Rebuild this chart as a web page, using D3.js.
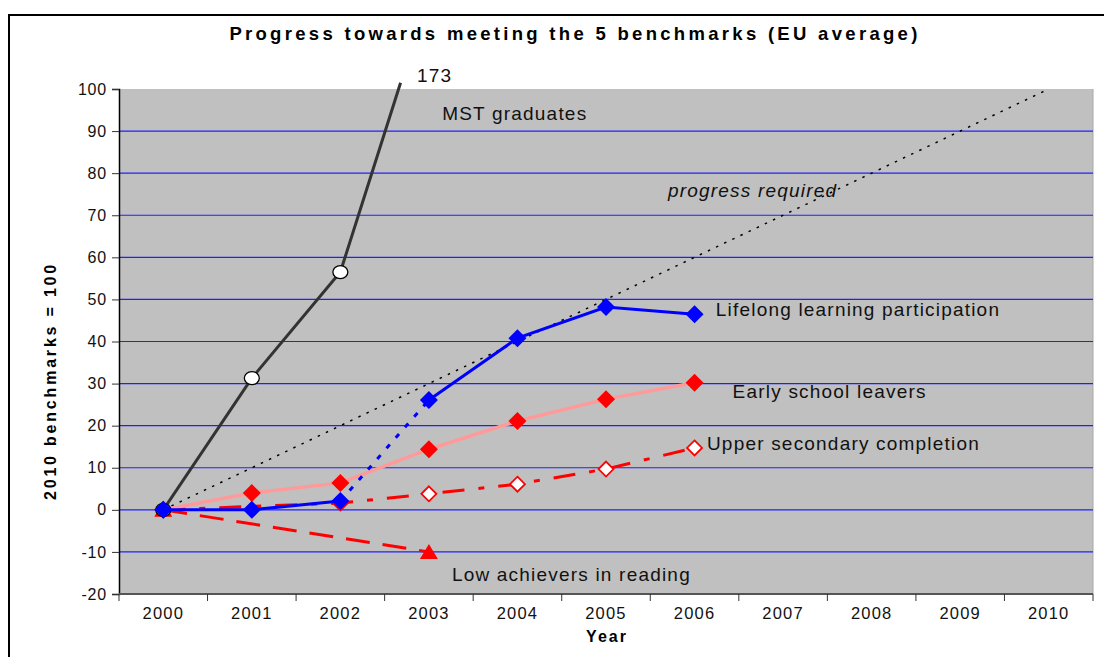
<!DOCTYPE html>
<html>
<head>
<meta charset="utf-8">
<script src="https://cdn.jsdelivr.net/npm/d3@7"></script>
<style>
  body { margin: 0; background: #fff; }
  svg { font-family: Arial, "Liberation Sans", sans-serif; }
</style>
</head>
<body>
<script>

    // data (2010 benchmarks = 100)
    var years = [2000, 2001, 2002, 2003, 2004, 2005, 2006, 2007, 2008, 2009, 2010];
    var yTicks = [-20, -10, 0, 10, 20, 30, 40, 50, 60, 70, 80, 90, 100];

    var mstYears = [2000, 2001, 2002];
    var mstValues = [0, 31.3, 56.5];
    var mst2003 = 173;              // off the scale, line runs out of the top
    var mstExit = [2002.68, 101.5]; // where the drawn line leaves the picture

    var progressYears = [2000, 2010];
    var progressValues = [0, 100];

    var lllYears = [2000, 2001, 2002, 2003, 2004, 2005, 2006];
    var lllValues = [0, 0, 2.1, 26.1, 40.8, 48.2, 46.5];

    var eslYears = [2000, 2001, 2002, 2003, 2004, 2005, 2006];
    var eslValues = [0, 4, 6.4, 14.4, 21.1, 26.3, 30.2];

    var uscYears = [2000, 2002, 2003, 2004, 2005, 2006];
    var uscValues = [0, 1.6, 3.8, 6.1, 9.7, 14.7];

    var lowYears = [2000, 2003];
    var lowValues = [0, -10];

    var W = 1104, H = 657;
    var pL = 119, pR = 1093, pT = 89, pB = 594;

    var svg = d3.select("body").append("svg")
        .attr("width", W)
        .attr("height", H);

    // outer frame
    svg.append("path")
        .attr("d", "M9,660 L9,15 L1110,15")
        .attr("fill", "none")
        .attr("stroke", "#000")
        .attr("stroke-width", 2);

    var x = d3.scaleLinear().domain([1999.5, 2010.5]).range([pL, pR]);
    var y = d3.scaleLinear().domain([-20, 100]).range([pB, pT]);

    svg.append("rect")
        .attr("x", pL).attr("y", pT)
        .attr("width", pR - pL).attr("height", pB - pT)
        .attr("fill", "#c0c0c0")
        .attr("stroke", "none");
    svg.append("line")
        .attr("x1", pR).attr("x2", pR).attr("y1", pT).attr("y2", pB)
        .attr("stroke", "#a8a8a8");

    // gridlines
    svg.selectAll(".grid")
        .data(yTicks.filter(function(d) { return d > -20 && d < 100; }))
        .enter().append("line")
        .attr("class", "grid")
        .attr("x1", pL).attr("x2", pR)
        .attr("y1", function(d) { return y(d); })
        .attr("y2", function(d) { return y(d); })
        .attr("stroke", "#2020ff")
        .attr("stroke-width", 1.2);

    // axes
    var yAxis = svg.append("g")
        .attr("transform", "translate(" + pL + ",0)")
        .call(d3.axisLeft(y).tickValues(yTicks).tickSize(7).tickPadding(5)
            .tickFormat(function(d) { return String(d); }));
    yAxis.select(".domain").attr("stroke", "#000").attr("stroke-width", 1.5);
    yAxis.selectAll(".tick line").attr("stroke", "#333");
    yAxis.selectAll("text")
        .attr("font-size", 16)
        .attr("letter-spacing", 0.8)
        .attr("fill", "#111");

    var edges = d3.range(1999.5, 2011, 1);
    var xAxis = svg.append("g")
        .attr("transform", "translate(0," + pB + ")");
    xAxis.append("line")
        .attr("x1", pL).attr("x2", pR)
        .attr("stroke", "#555").attr("stroke-width", 2);
    xAxis.selectAll(".tk")
        .data(edges)
        .enter().append("line")
        .attr("class", "tk")
        .attr("x1", function(d) { return x(d); })
        .attr("x2", function(d) { return x(d); })
        .attr("y1", 0).attr("y2", 7)
        .attr("stroke", "#333");
    xAxis.selectAll(".lb")
        .data(years)
        .enter().append("text")
        .attr("class", "lb")
        .attr("x", function(d) { return x(d); })
        .attr("y", 25)
        .attr("text-anchor", "middle")
        .attr("font-size", 16.5)
        .attr("letter-spacing", 1.2)
        .attr("fill", "#111")
        .text(function(d) { return d; });

    // title and axis titles
    svg.append("text")
        .attr("x", 575).attr("y", 40)
        .attr("text-anchor", "middle")
        .attr("font-size", 18.5)
        .attr("font-weight", "bold")
        .attr("letter-spacing", 3.3)
        .text("Progress towards meeting the 5 benchmarks (EU average)");

    svg.append("text")
        .attr("x", 607).attr("y", 642)
        .attr("text-anchor", "middle")
        .attr("font-size", 16)
        .attr("font-weight", "bold")
        .attr("letter-spacing", 2)
        .text("Year");

    svg.append("text")
        .attr("transform", "translate(56,381) rotate(-90)")
        .attr("text-anchor", "middle")
        .attr("font-size", 16)
        .attr("font-weight", "bold")
        .attr("letter-spacing", 2.8)
        .text("2010 benchmarks = 100");

    function pts(xs, vs) {
        return xs.map(function(d, i) { return [d, vs[i]]; });
    }
    var line = d3.line()
        .x(function(d) { return x(d[0]); })
        .y(function(d) { return y(d[1]); });

    // progress required
    svg.append("path")
        .attr("d", line(pts(progressYears, progressValues)))
        .attr("fill", "none")
        .attr("stroke", "#000")
        .attr("stroke-width", 1.5)
        .attr("stroke-dasharray", "2.5,6.5");

    // low achievers
    var low = pts(lowYears, lowValues);
    svg.append("path")
        .attr("d", line(low))
        .attr("fill", "none")
        .attr("stroke", "#ff0000")
        .attr("stroke-width", 3)
        .attr("stroke-dasharray", "24,13");
    svg.selectAll(".tri")
        .data(low)
        .enter().append("path")
        .attr("class", "tri")
        .attr("transform", function(d) { return "translate(" + x(d[0]) + "," + y(d[1]) + ")"; })
        .attr("d", "M0,-8 L9,7 L-9,7 Z")
        .attr("fill", "#ff0000");

    // upper secondary completion
    var usc = pts(uscYears, uscValues);
    svg.append("path")
        .attr("d", line(usc))
        .attr("fill", "none")
        .attr("stroke", "#ff0000")
        .attr("stroke-width", 3)
        .attr("stroke-dasharray", "22,14,6,14");

    // early school leavers
    var esl = pts(eslYears, eslValues);
    svg.append("path")
        .attr("d", line(esl))
        .attr("fill", "none")
        .attr("stroke", "#ff9a9a")
        .attr("stroke-width", 3.5);

    function diamond(r) {
        return "M0," + (-r) + " L" + r + ",0 L0," + r + " L" + (-r) + ",0 Z";
    }
    svg.selectAll(".uscm")
        .data(usc)
        .enter().append("path")
        .attr("class", "uscm")
        .attr("transform", function(d) { return "translate(" + x(d[0]) + "," + y(d[1]) + ")"; })
        .attr("d", diamond(7.5))
        .attr("fill", "#fff")
        .attr("stroke", "#ff0000")
        .attr("stroke-width", 1.8);
    svg.selectAll(".eslm")
        .data(esl)
        .enter().append("path")
        .attr("class", "eslm")
        .attr("transform", function(d) { return "translate(" + x(d[0]) + "," + y(d[1]) + ")"; })
        .attr("d", diamond(9))
        .attr("fill", "#ff0000");

    // MST graduates
    var mst = pts(mstYears, mstValues);
    svg.append("path")
        .attr("d", line(mst.concat([mstExit])))
        .attr("fill", "none")
        .attr("stroke", "#333")
        .attr("stroke-width", 3);
    svg.selectAll(".mstm")
        .data(mst)
        .enter().append("ellipse")
        .attr("class", "mstm")
        .attr("cx", function(d) { return x(d[0]); })
        .attr("cy", function(d) { return y(d[1]); })
        .attr("rx", 7.5).attr("ry", 6.5)
        .attr("fill", "#fff")
        .attr("stroke", "#000")
        .attr("stroke-width", 1.3);

    // lifelong learning participation
    var lll = pts(lllYears, lllValues);
    svg.append("path")
        .attr("d", line(lll.slice(0, 3)))
        .attr("fill", "none").attr("stroke", "#0000ff").attr("stroke-width", 3);
    svg.append("path")
        .attr("d", line(lll.slice(2, 4)))
        .attr("fill", "none").attr("stroke", "#0000ff").attr("stroke-width", 3)
        .attr("stroke-dasharray", "5,9");
    svg.append("path")
        .attr("d", line(lll.slice(3)))
        .attr("fill", "none").attr("stroke", "#0000ff").attr("stroke-width", 3);
    svg.selectAll(".lllm")
        .data(lll)
        .enter().append("path")
        .attr("class", "lllm")
        .attr("transform", function(d) { return "translate(" + x(d[0]) + "," + y(d[1]) + ")"; })
        .attr("d", diamond(9))
        .attr("fill", "#0000ff");

    // series labels, placed in data units
    var notes = [
        {t: String(mst2003), yr: 2002.865, v: 101.6, it: false},
        {t: "MST graduates", yr: 2003.15, v: 92.6, it: false},
        {t: "progress required", yr: 2005.7, v: 74.3, it: true},
        {t: "Lifelong learning participation", yr: 2006.24, v: 46.1, it: false},
        {t: "Early school leavers", yr: 2006.43, v: 26.6, it: false},
        {t: "Upper secondary completion", yr: 2006.14, v: 14.3, it: false},
        {t: "Low achievers in reading", yr: 2003.26, v: -16.8, it: false}
    ];
    svg.selectAll(".note")
        .data(notes)
        .enter().append("text")
        .attr("class", "note")
        .attr("x", function(d) { return x(d.yr); })
        .attr("y", function(d) { return y(d.v); })
        .attr("font-size", 19)
        .attr("letter-spacing", 1.2)
        .attr("font-style", function(d) { return d.it ? "italic" : "normal"; })
        .attr("fill", "#111")
        .text(function(d) { return d.t; });

</script>
</body>
</html>
